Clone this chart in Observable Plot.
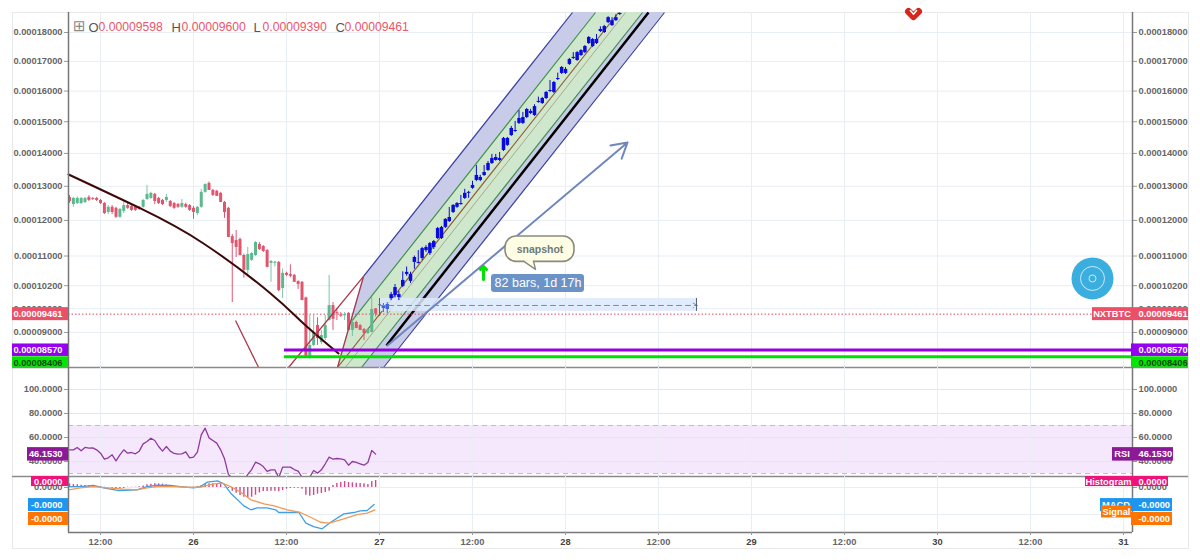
<!DOCTYPE html>
<html><head><meta charset="utf-8">
<script src="https://cdn.jsdelivr.net/npm/d3@7"></script>
<script src="https://cdn.jsdelivr.net/npm/@observablehq/plot@0.6"></script>
<style>
html,body{margin:0;padding:0;background:#fff}
#chart{position:relative;width:1200px;height:560px;overflow:hidden}
#frame{position:absolute;left:12px;top:12px;width:1177px;height:537px;border:1px solid #e6e8ea;box-sizing:border-box}
#chart svg{position:absolute;left:0}
</style></head><body>
<div id="chart"><div id="frame"></div></div>
<script>
// prices are in units of 0.00000001, time in hours after the start of day 26
const sessionBars = [ // open, high, low, close (30 minute bars)
[12670,12727,12490,12550],[12460,12670,12380,12640],[12490,12690,12460,12640],[12490,12670,12460,12640],[12520,12670,12490,12640],
[12670,12720,12550,12580],[12640,12660,12580,12610],[12640,12670,12550,12580],[12580,12610,12460,12490],[12490,12520,12170,12200],
[12230,12430,12170,12380],[12380,12430,12170,12230],[12350,12380,12060,12090],[12090,12340,12060,12320],[12260,12580,12200,12430],
[12430,12490,12320,12350],[12400,12430,12260,12290],[12380,12400,12260,12290],[12380,12400,12290,12320],[12380,12610,12350,12580],
[12610,13025,12580,12760],[12640,12820,12610,12790],[12760,12790,12460,12550],[12640,12670,12460,12490],[12580,12610,12430,12460],
[12580,12760,12520,12670],[12550,12580,12380,12400],[12490,12520,12320,12350],[12460,12490,12350,12380],[12380,12610,12350,12490],
[12460,12500,12350,12380],[12430,12460,12260,12290],[12350,12400,12030,12230],[12200,12400,12140,12380],[12380,12910,12350,12820],
[12820,13070,12790,13055],[13085,13130,12875,12875],[12875,12910,12700,12727],[12850,12880,12700,12700],[12790,12820,12520,12520],
[12520,12550,12060,12230],[12350,12380,11510,11515],[11540,11600,9760,11345],[11430,11710,10960,11235],[11460,11500,11000,11015],
[11015,11050,10400,10610],[10610,11240,10475,11040],[10880,11100,10850,11070],[11015,11400,10990,11375],[11320,11375,11150,11180],
[11265,11290,11100,11125],[11150,11180,10680,10690],[10800,10880,10290,10850],[10800,10860,10700,10830],[10825,10850,10040,10070],
[10125,10650,9860,10530],[10530,10560,10440,10475],[10500,10760,10410,10450],[10475,10500,10290,10290],[10310,10330,10100,10230],
[10290,10310,9810,9810],[9880,9900,8370,8400],[8390,9430,8350,8680],[8680,9430,8650,9000],[9175,9370,8680,8850],
[8750,9050,8700,8925],[8850,9430,8800,9175],[9300,10475,9280,9680],[9680,9760,9050,9330],[9500,9610,9300,9470],
[9440,9500,9380,9410],[9420,9500,9300,9450],[9480,9500,9050,9050],[9050,9300,8900,9250],[9250,9280,9090,9100],
[9170,9200,9050,9050],[9075,9100,8800,8975],[8975,9100,8950,9075],[9000,9900,8990,9580],[9598,9600,9390,9461]
];
const forecastBars = [
[9680,9860,9400,9700],[9606,9733,9504,9682],[9580,9760,9480,9708],[9860,10020,9810,9965],[9940,10230,9880,10150],
[9890,10050,9810,9965],[10180,10570,10150,10340],[10500,10700,10450,10555],[10315,10560,10260,10500],[10825,11000,10640,10960],
[10800,11150,10780,10825],[10935,11240,10880,11205],[11150,11290,11100,11235],[11070,11375,11015,11345],[11235,11430,11180,11400],
[11485,11800,11460,11770],[11485,11830,11460,11800],[11800,12050,11770,12030],[11970,12375,11940,12085],[12230,12460,12200,12434],
[12380,12520,12350,12490],[12460,12727,12440,12490],[12640,12910,12610,12790],[12790,12850,12640,12820],[12940,13150,12910,13025],
[13175,13630,13140,13325],[13175,13330,13140,13265],[13325,13630,13295,13415],[13477,13750,13450,13690],[13690,13970,13660,13845],
[13783,13970,13760,13875],[13783,14030,13750,13845],[14090,14500,14060,14470],[14250,14500,14220,14470],[14560,14850,14530,14785],
[14690,15010,14660,14720],[14945,15360,14910,15105],[14945,15300,14910,15135],[15135,15430,15100,15395],[15265,15400,15230,15330],
[15200,15550,15170,15490],[15625,15800,15600,15660],[15590,15790,15560,15755],[15755,15990,15720,15955],[15985,16350,15950,16020],
[15955,16320,15920,16285],[16385,16600,16350,16420],[16590,16825,16555,16790],[16590,16790,16555,16725],[16895,17100,16860,17065],
[17100,17300,17060,17135],[17030,17335,17000,17300],[17200,17400,17170,17370],[17300,17545,17265,17510],[17615,17860,17580,17825],
[17510,17790,17475,17755],[17615,17930,17580,17755],[18035,18200,18000,18105],[18000,18250,17965,18210],[18350,18560,18315,18525],
[18245,18525,18210,18420],[18420,18630,18390,18525],[18640,18700,18600,18675]
];
const rsiValues = [49.7,49.7,51.7,48.9,51.7,51.1,51.4,49.7,46.9,41.9,43.1,45.6,40.5,45.6,49.7,46.9,47.5,46.4,48.6,54.7,
56.7,59.4,57.5,52.5,48.6,52.5,48.6,46.7,46.1,46.4,48.0,43.1,43.6,47.8,62.2,67.8,59.7,57.5,55.3,49.7,
42.2,29.2,26.4,24.2,21.4,24.2,29.2,33.3,39.4,38.1,35.8,31.7,33.1,33.1,26.4,35.3,35.3,35.3,33.3,32,
27,22.8,27,32.5,30.3,33.1,38.1,43.6,41.9,42.5,42.2,41.4,36.9,40,39.2,38.1,36.9,39.2,49.2,46.15];
const histValues = [.27,.22,.20,.17,.15,.12,.10,.07,.05,.02,-.02,-.05,-.07,-.10,-.07,.02,.02,.02,.05,.12,
.20,.25,.27,.27,.25,.20,.15,.10,.07,.05,.02,.02,.02,.07,.15,.22,.27,.27,.30,.27,
-.02,-.07,-.27,-.42,-.59,-.72,-.77,-.72,-.57,-.40,-.30,-.30,-.27,-.27,-.32,-.22,-.12,-.07,-.05,-.05,
-.12,-.57,-.64,-.59,-.49,-.44,-.37,-.27,.15,.30,.37,.44,.37,.35,.32,.30,.27,.22,.44,.52];
const macdHours = [-16.1,-14.6,-12.9,-11.6,-9.8,-7.3,-6,-4.7,-3,-1.7,0,.9,1.8,3.1,3.9,4.8,6.5,7.4,8.2,9.5,10.6,11,13.6,14.5,15.5,16.6,17.7,19.4,20.7,21.5,22.4,23.3];
const macdValues = [.07,.07,.15,-.02,-.22,-.17,.07,.17,.15,.07,-.02,.07,.40,.49,.27,-.42,-1.36,-1.65,-1.51,-1.51,-1.65,-1.85,-1.85,-2.64,-2.89,-3.06,-2.57,-1.95,-1.85,-1.73,-1.70,-1.26];
const signalHours = [-16.1,-14.6,-12.9,-11.1,-9,-7.3,-6,-4.7,-2.5,-.8,.9,2.6,3.7,4.8,6.1,7.4,9.1,10.4,12.1,13.8,15.1,16.4,17.5,19.4,21.1,22.4,23.4];
const signalValues = [-.17,-.02,.07,-.02,-.12,-.17,-.02,.07,.07,.02,.02,.27,.32,.07,-.35,-.91,-1.21,-1.36,-1.65,-1.85,-2.2,-2.57,-2.64,-2.32,-2,-1.9,-1.65];
const curveHours = [-16.13,-6.84,1.29,9.94,14.19,18.71];
const curvePrices = [13355,12346,11348,9996,9225,8486];

const priceTicks = [18000,17000,16000,15000,14000,13000,12000,11000,10200,9600,9000];
const rsiTicks = [100,80,60,40];
const macdTicks = [0,-2];
const hourTicks = [-12,12,36,60,84,108];
const dayTicks = [0,24,48,72,96,120];
const dayLabels = ["26","27","28","29","30","31"];

const X_MIN = -16.13, X_MAX = 121.16;
const FONT = "'Liberation Sans', Arial, sans-serif";
const GRID = "#e8eef3", AXIS = "#777", TICK = "#666";
const shared = {
  width: 1200, marginLeft: 68, marginRight: 68, marginTop: 0, marginBottom: 0,
  x: {domain: [X_MIN, X_MAX], range: [68, 1132], axis: null},
  style: {fontFamily: FONT, fontSize: "9.3px", fontWeight: "bold", color: TICK, background: "transparent", overflow: "visible"}
};
const txt = {fontFamily: FONT, fontWeight: "bold", fontSize: 9.3};

function badgeLeft(v, label, w, up, down, fill, color = "#fff", textDy = 0) {
  return [
    Plot.rect([v], {x1: () => X_MIN, x2: () => X_MIN, y1: d => d, y2: d => d, insetLeft: -w, insetRight: 0, insetTop: -up, insetBottom: -down, fill}),
    Plot.text([v], {x: () => X_MIN, y: d => d, text: () => label, dx: -6, dy: textDy, textAnchor: "end", fill: color, ...txt})
  ];
}
function badgeRight(v, label, w, up, down, fill, color = "#fff", textDy = 0) {
  return [
    Plot.rect([v], {x1: () => X_MAX, x2: () => X_MAX, y1: d => d, y2: d => d, insetLeft: -1, insetRight: -w, insetTop: -up, insetBottom: -down, fill}),
    Plot.text([v], {x: () => X_MAX, y: d => d, text: () => label, dx: 6, dy: textDy, textAnchor: "start", fill: color, ...txt})
  ];
}
function nameTag(v, label, w, up, down, fill) {
  return [
    Plot.rect([v], {x1: () => X_MAX, x2: () => X_MAX, y1: d => d, y2: d => d, insetLeft: -(w + 1), insetRight: 1, insetTop: -up, insetBottom: -down, fill}),
    Plot.text([v], {x: () => X_MAX, y: d => d, text: () => label, dx: -(w / 2 + 1), textAnchor: "middle", fill: "#fff", ...txt})
  ];
}
const xGrid = () => Plot.gridX([...hourTicks, ...dayTicks], {stroke: GRID, strokeOpacity: 1});
const sideRules = () => Plot.ruleX([X_MIN, X_MAX], {stroke: AXIS, strokeWidth: 1.5});
const sideAxes = (ticks, fmt) => [
  Plot.axisY(ticks, {anchor: "left", tickSize: 4, tickPadding: 2, stroke: "#999", fill: TICK, tickFormat: fmt, label: null}),
  Plot.axisY(ticks, {anchor: "right", tickSize: 4, tickPadding: 2, stroke: "#999", fill: TICK, tickFormat: fmt, label: null})
];
const separator = v => Plot.ruleY([v], {x1: () => -23.35, x2: () => 128.4, stroke: "#8a8a8a", strokeWidth: 1.5});

// ---------- price panel ----------
const barHour = i => (i - 32) / 2;
const toRow = i => ([o, h, l, c], j) => ({hour: barHour(i + j), o, h, l, c});
const session = sessionBars.map(toRow(0));
const forecast = forecastBars.map(toRow(80));
const upBars = session.filter(d => d.c >= d.o), downBars = session.filter(d => d.c < d.o);
const candle = (rows, color, wickOpacity = 1, bodyWidth = 3) => [
  Plot.ruleX(rows, {x: "hour", y1: "l", y2: "h", stroke: color, strokeWidth: 1, strokeOpacity: wickOpacity}),
  Plot.ruleX(rows, {x: "hour", y1: "o", y2: "c", stroke: color, strokeWidth: bodyWidth})
];
const RED = "#e0566f", GREEN = "#5cb88f", BLUE = "#0a0ae0";
const TOP = 18710, BOTTOM = 8150;
const outerBand = [
  {y: BOTTOM, a: 18.58, b: 24.52}, {y: 10446, a: 21.94, b: 33.9}, {y: TOP, a: 48.9, b: 60.77}
];
const greenBand = [
  {y: BOTTOM, a: 18.58, b: 21.68}, {y: 9276, a: 20.39, b: 26.45}, {y: TOP, a: 51.87, b: 57.94}
];
const seg = (x1, p1, x2, p2, options) => Plot.link([0], {x1: () => x1, y1: () => p1, x2: () => x2, y2: () => p2, ...options});
const legendKeys = ["O", "H", "L", "C"], legendVals = ["0.00009598", "0.00009600", "0.00009390", "0.00009461"];
const legendKeyDx = [20, 103, 185, 267], legendValDx = [30, 113, 194, 276];

const pricePlot = Plot.plot({
  ...shared, height: 367, marginTop: 12,
  y: {type: "sqrt", domain: [BOTTOM, TOP], range: [367, 12], axis: null},
  marks: [
    Plot.gridY(priceTicks, {stroke: GRID, strokeOpacity: 1}), xGrid(),
    ...sideAxes(priceTicks, d => (d * 1e-8).toFixed(8)),
    Plot.areaX(outerBand, {y: "y", x1: "a", x2: "b", fill: "#c9cce8", curve: "linear"}),
    Plot.areaX(greenBand, {y: "y", x1: "a", x2: "b", fill: "#cfe8cd", curve: "linear"}),
    seg(21.94, 10446, 48.9, TOP, {stroke: "#3a3f9e", strokeWidth: 1.2}),
    seg(24.52, BOTTOM, 60.77, TOP, {stroke: "#3a3f9e", strokeWidth: 1.2}),
    seg(20.39, 9276, 51.87, TOP, {stroke: "#3f8f50", strokeWidth: 1.2}),
    seg(21.68, BOTTOM, 57.94, TOP, {stroke: "#3f8f50", strokeWidth: 1.2}),
    seg(19.6, BOTTOM, 55.74, TOP, {stroke: "#a8a88a", strokeWidth: 1}),
    seg(18.58, BOTTOM, 54.84, TOP, {stroke: "#8f5a34", strokeWidth: 1.2}),
    seg(24.9, 8679, 58.71, TOP, {stroke: "#000", strokeWidth: 2.5}),
    Plot.rect([0], {x1: () => 24, x2: () => 65, y1: () => 9530, y2: () => 9865, fill: "#dce9fb", fillOpacity: .85}),
    Plot.ruleY([9461], {stroke: "#d9485f", strokeDasharray: "1.5 2", strokeWidth: 1}),
    ...candle(upBars, GREEN, .8), ...candle(downBars, RED),
    ...candle(forecast.slice(0, 1), "#56607a"), ...candle(forecast.slice(1, 3), "#3f63e6", 1, 3.5), ...candle(forecast.slice(3), BLUE, 1, 3.5),
    Plot.arrow([0], {x1: () => 25.03, y1: () => 8679, x2: () => 56, y2: () => 14344, bend: 0, stroke: "#6f87bd", strokeWidth: 2, headLength: 13}),
    Plot.line(curveHours.map((h, i) => ({h, p: curvePrices[i]})), {x: "h", y: "p", stroke: "#3c0808", strokeWidth: 2, curve: "natural"}),
    seg(5.42, 9300, 8.4, BOTTOM, {stroke: "#a83a4c", strokeWidth: 1.3}),
    seg(12.26, BOTTOM, 21.94, 10446, {stroke: "#a83a4c", strokeWidth: 1.3}),
    seg(21.94, 10446, 18.58, BOTTOM, {stroke: "#a83a4c", strokeWidth: 1.3}),
    Plot.ruleY([8570], {x1: () => 11.74, x2: () => X_MAX, stroke: "#9500e0", strokeWidth: 3}),
    Plot.ruleY([8406], {x1: () => 11.74, x2: () => X_MAX, stroke: "#00e000", strokeWidth: 3}),
    Plot.arrow([0], {x1: () => 24, y1: () => 9683, x2: () => 65, y2: () => 9683, bend: 0, stroke: "#7f8a99", strokeWidth: 1, strokeDasharray: "5 4", headLength: 7}),
    Plot.ruleX([24, 64.9], {y1: () => 9530, y2: () => 9865, stroke: "#56607a", strokeWidth: 1}),
    Plot.rect([0], {x1: () => 38.45, x2: () => 50.45, y1: () => 10022, y2: () => 10500, fill: "#6b93c8", rx: 3}),
    Plot.text(["82 bars, 1d 17h"], {x: () => 44.45, y: () => 10260, text: d => d, fill: "#fff", fontFamily: FONT, fontWeight: "normal", fontSize: 12.5}),
    Plot.arrow([0], {x1: () => 37.42, y1: () => 10366, x2: () => 37.42, y2: () => 10715, bend: 0, stroke: "#00e000", strokeWidth: 3, headLength: 9, headAngle: 90}),
    Plot.rect([0], {x1: () => 40.26, x2: () => 49.16, y1: () => 10840, y2: () => 11544, fill: "#fffde3", stroke: "#8a8a80", strokeWidth: 1.6, rx: 11}),
    Plot.areaY([{h: 42.58, a: 10870, b: 10870}, {h: 44.13, a: 10637, b: 10880}, {h: 43.87, a: 10870, b: 10870}], {x: "h", y1: "a", y2: "b", fill: "#fffde3"}),
    Plot.line([{h: 42.58, p: 10860}, {h: 44.13, p: 10637}, {h: 43.87, p: 10860}], {x: "h", y: "p", stroke: "#8a8a80", strokeWidth: 1.4}),
    Plot.text(["snapshot"], {x: () => 44.71, y: () => 11190, text: d => d, fill: "#6d7a7a", fontFamily: FONT, fontWeight: "bold", fontSize: 10.5}),
    Plot.line([{h: 92.26, p: 18747}, {h: 92.9, p: 18568}, {h: 93.55, p: 18747}], {x: "h", y: "p", stroke: "#d8261c", strokeWidth: 7}),
    Plot.line([{h: 92.5, p: 18780}, {h: 92.9, p: 18650}, {h: 93.3, p: 18780}], {x: "h", y: "p", stroke: "#fff", strokeWidth: 1.5}),
    Plot.dot([0], {x: () => 116, y: () => 10392, r: 21, fill: "#3baee0"}),
    Plot.dot([0], {x: () => 116, y: () => 10392, r: 12, stroke: "#cfeaf7", strokeWidth: 1}),
    Plot.dot([0], {x: () => 116, y: () => 10392, r: 3.5, stroke: "#cfeaf7", strokeWidth: 1}),
    Plot.text(["⊞"], {frameAnchor: "top-left", text: d => d, dx: 4.5, dy: 8, fill: "#888", fontFamily: "'DejaVu Sans'", fontWeight: "normal", fontSize: 15, lineAnchor: "top", textAnchor: "start"}),
    ...legendKeys.map((k, i) => Plot.text([k], {frameAnchor: "top-left", text: d => d, dx: legendKeyDx[i], dy: 10, textAnchor: "start", lineAnchor: "top", fill: "#555", fontFamily: FONT, fontWeight: "normal", fontSize: 13})),
    ...legendVals.map((k, i) => Plot.text([k], {frameAnchor: "top-left", text: d => d, dx: legendValDx[i], dy: 10, textAnchor: "start", lineAnchor: "top", fill: "#e8566c", fontFamily: FONT, fontWeight: "normal", fontSize: 12.2})),
    sideRules(),
    ...badgeLeft(9461, "0.00009461", 56, 6.5, 6.5, "#ec5068"),
    ...badgeLeft(8570, "0.00008570", 56, 6, 6.5, "#9500f0"),
    ...badgeLeft(8406, "0.00008406", 56, 0, 11, "#00e800", "#0a4a0a", 6),
    ...badgeRight(9461, "0.00009461", 56, 6.5, 6.5, "#ec5068"),
    ...nameTag(9461, "NXTBTC", 39, 6.5, 6.5, "#ec5068"),
    ...badgeRight(8570, "0.00008570", 56, 6, 6.5, "#9500f0"),
    ...badgeRight(8406, "0.00008406", 56, 0, 11, "#00e800", "#0a4a0a", 6),
    separator(BOTTOM)
  ]
});

// ---------- RSI panel ----------
const rsiRows = rsiValues.map((v, i) => ({hour: barHour(i), v}));
const rsiPlot = Plot.plot({
  ...shared, height: 109,
  y: {domain: [27.5, 118.33], range: [109, 0], axis: null},
  marks: [
    Plot.rect([0], {x1: () => X_MIN, x2: () => X_MAX, y1: () => 30, y2: () => 70, fill: "#f5e8fd"}),
    Plot.gridY(rsiTicks, {stroke: "#e4e4f2", strokeOpacity: 1}), xGrid(),
    Plot.ruleY([30, 70], {stroke: "#c8b8d2", strokeDasharray: "5 4", strokeWidth: 1}),
    ...sideAxes(rsiTicks, d => d.toFixed(4)),
    Plot.line(rsiRows, {x: "hour", y: "v", stroke: "#8e3a9d", strokeWidth: 1.3, clip: true}),
    sideRules(),
    ...badgeLeft(46.153, "46.1530", 41, 6.5, 7, "#8c1a96"),
    ...badgeRight(46.153, "46.1530", 41, 6.5, 7, "#8c1a96"),
    ...nameTag(46.153, "RSI", 19, 6.5, 7, "#8c1a96"),
    separator(27.5)
  ]
});

// ---------- MACD panel ----------
const histRows = histValues.map((v, i) => ({hour: barHour(i), v}));
const macdPlot = Plot.plot({
  ...shared, height: 84, marginBottom: 28,
  y: {domain: [-3.33, .815], range: [56, 0], axis: null},
  marks: [
    Plot.gridY(macdTicks, {stroke: GRID, strokeOpacity: 1}), xGrid(),
    ...sideAxes(macdTicks, d => (d < 0 ? "-" : "") + "0.0000"),
    Plot.ruleX(histRows, {x: "hour", y1: () => 0, y2: "v", stroke: "#d0488c", strokeWidth: 1.4}),
    Plot.line(macdHours.map((h, i) => ({h, v: macdValues[i]})), {x: "h", y: "v", stroke: "#3f9fe6", strokeWidth: 1.3}),
    Plot.line(signalHours.map((h, i) => ({h, v: signalValues[i]})), {x: "h", y: "v", stroke: "#f09a55", strokeWidth: 1.3}),
    sideRules(),
    Plot.ruleY([-3.33], {stroke: AXIS, strokeWidth: 1.5}),
    Plot.axisX(hourTicks, {anchor: "bottom", tickSize: 3, tickPadding: 3, stroke: "#999", fill: TICK, tickFormat: () => "12:00", label: null}),
    Plot.axisX(dayTicks, {anchor: "bottom", tickSize: 3, tickPadding: 3, stroke: "#999", fill: "#444", tickFormat: d => dayLabels[dayTicks.indexOf(d)], label: null}),
    ...badgeLeft(.44, "0.0000", 37, 5, 5, "#f0117a"),
    ...badgeLeft(-1.3, "-0.0000", 40, 6.5, 6.5, "#1e96f0"),
    ...badgeLeft(-2.33, "-0.0000", 40, 6.5, 6.5, "#ff7500"),
    ...badgeRight(.44, "0.0000", 36, 5, 5, "#f0117a"),
    ...nameTag(.44, "Histogram", 46, 5, 5, "#f0117a"),
    ...badgeRight(-1.3, "-0.0000", 40, 6.5, 6.5, "#1e96f0"),
    ...nameTag(-1.3, "MACD", 31, 6.5, 6.5, "#1e96f0"),
    ...badgeRight(-2.33, "-0.0000", 40, 6.5, 6.5, "#ff7500"),
    ...nameTag(-1.81, "Signal", 30, 6, 6, "#ff7500")
  ]
});

const root = document.getElementById("chart");
[[pricePlot, 0], [rsiPlot, 367], [macdPlot, 476]].forEach(([svg, top]) => {
  svg.style.top = top + "px";
  root.appendChild(svg);
});
</script></body></html>
